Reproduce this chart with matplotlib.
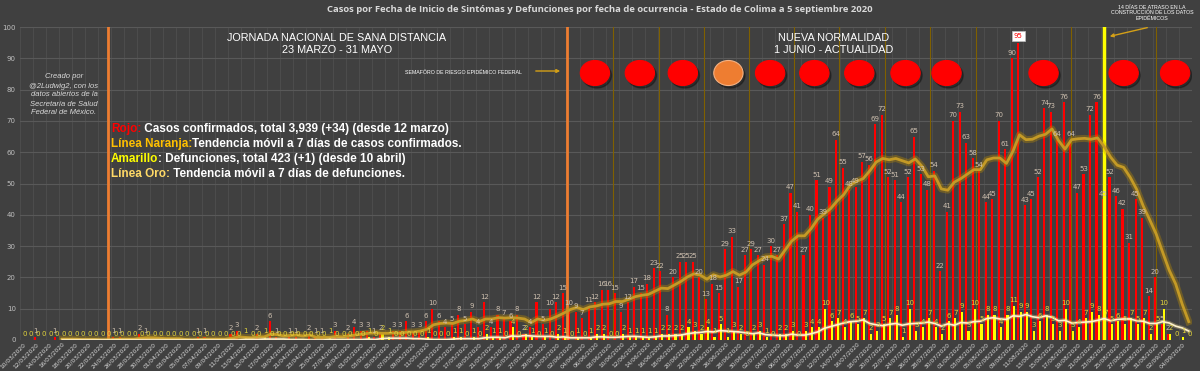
import numpy as np
import pandas as pd
import matplotlib
matplotlib.use("Agg")
import matplotlib.pyplot as plt
from matplotlib.patches import Ellipse, FancyArrowPatch

# ==========================================
# Datos (10 mar - 5 sep 2020)
# ==========================================
fecha_inicio = "2020-03-10"

casos = [
    0, 0, 1, 0, 0, 1, 0, 0, 0, 0,
    0, 0, 0, 0, 1, 1, 0, 0, 2, 1,
    0, 0, 0, 0, 0, 0, 0, 1, 1, 0,
    0, 0, 2, 3, 0, 0, 2, 0, 6, 1,
    0, 1, 1, 0, 2, 1, 1, 0, 3, 0,
    2, 4, 3, 3, 1, 2, 0, 3, 3, 6,
    3, 3, 6, 10, 6, 4, 5, 8, 5, 9,
    4, 12, 4, 8, 7, 6, 8, 2, 4, 12,
    5, 10, 12, 15, 10, 9, 7, 11, 12, 16,
    16, 15, 9, 12, 17, 15, 18, 23, 22, 8,
    20, 25, 25, 25, 20, 13, 18, 15, 29, 33,
    17, 27, 29, 27, 24, 30, 27, 37, 47, 41,
    27, 40, 51, 39, 49, 64, 55, 48, 49, 57,
    56, 69, 72, 52, 51, 44, 52, 65, 53, 48,
    54, 22, 41, 70, 73, 63, 58, 54, 44, 45,
    70, 61, 90, 95, 43, 45, 52, 74, 73, 64,
    76, 64, 47, 53, 72, 76, 45, 52, 46, 42,
    31, 45, 39, 14, 20, 5, 2, 0, 0, 0,
]

defunciones = [
    0, 0, 0, 0, 0, 0, 0, 0, 0, 0,
    0, 0, 0, 0, 0, 0, 0, 0, 0, 0,
    0, 0, 0, 0, 0, 0, 0, 0, 0, 0,
    0, 0, 0, 0, 1, 0, 0, 1, 0, 0,
    0, 0, 0, 0, 0, 0, 0, 1, 0, 0,
    0, 0, 0, 1, 0, 2, 1, 0, 0, 0,
    0, 0, 1, 0, 0, 0, 1, 1, 0, 1,
    0, 2, 1, 1, 0, 4, 0, 2, 1, 0,
    1, 0, 2, 1, 0, 1, 0, 1, 2, 2,
    0, 0, 2, 1, 1, 1, 1, 1, 2, 2,
    2, 2, 4, 3, 2, 4, 1, 5, 1, 3,
    2, 0, 2, 3, 1, 0, 2, 2, 3, 0,
    3, 4, 4, 10, 6, 7, 4, 6, 5, 7,
    2, 3, 5, 7, 8, 1, 10, 3, 4, 7,
    4, 2, 6, 7, 9, 3, 10, 5, 8, 8,
    4, 8, 11, 9, 9, 3, 6, 8, 5, 3,
    10, 3, 4, 7, 9, 8, 7, 5, 6, 5,
    7, 5, 7, 2, 5, 10, 2, 0, 1, 0,
]

# semáforo federal (una bola por semana)
semaforo_colores = ["rojo", "rojo", "rojo", "naranja", "rojo", "rojo",
                    "rojo", "rojo", "rojo", "rojo", "rojo", "rojo"]

# posiciones (en días) de las anotaciones
semaforo_dias = [87.8, 94.7, 101.3, 108.3, 114.7, 121.5,
                 128.4, 135.5, 141.8, 156.7, 169.0, 176.9]
lineas_semana = [90.6, 97.6, 104.6, 111.5, 118.4, 125.3,
                 132.4, 139.3, 146.3, 160.9, 174.0]
dia_inicio_jornada = 13
dia_fin_jornada = 83.5
dia_atraso = 166

titulo = ("Casos por Fecha de Inicio de Sintómas y Defunciones por fecha de "
          "ocurrencia - Estado de Colima a 5 septiembre 2020")

leyenda = [
    [("Rojo:", "#FF0000"), (" Casos confirmados, total 3,939 (+34) (desde 12 marzo)", "white")],
    [("Línea Naranja:", "#FFC000"), ("Tendencia móvil a 7 días de casos confirmados.", "white")],
    [("Amarillo", "#FFFF00"), (": Defunciones, total 423 (+1) (desde 10 abril)", "white")],
    [("Línea Oro:", "#FFD966"), (" Tendencia móvil a 7 días de defunciones.", "white")],
]

# ==========================================
# Figura
# ==========================================
FONDO = "#404040"
W, H = 1200, 371

fechas = pd.date_range(fecha_inicio, periods=len(casos), freq="D")
x = np.arange(len(casos))
mm_casos = pd.Series(casos).rolling(7).mean()
mm_def = pd.Series(defunciones).rolling(7).mean()

fig = plt.figure(figsize=(12, 3.71), dpi=100, facecolor=FONDO)
ax = fig.add_axes([20 / W, 1 - 340 / H, 1172 / W, 313 / H])
ax.set_facecolor(FONDO)

# rejilla
ax.set_axisbelow(True)
ax.set_yticks(np.arange(0, 101, 10))
ax.set_xticks(x[::2])
ax.set_xticks(np.arange(-0.5, len(x), 2), minor=True)
ax.grid(axis="y", color="#595959", lw=0.8)
ax.grid(axis="x", which="minor", color="#4f4f4f", lw=0.6)
ax.tick_params(which="both", length=0)
for s in ax.spines.values():
    s.set_visible(False)

# barras
ax.bar(x - 0.17, casos, width=0.32, color="#FF0000", zorder=3)
ax.bar(x + 0.17, defunciones, width=0.32, color="#FFFF00", zorder=3)

# líneas verticales
for d in lineas_semana:
    ax.axvline(d, color="#7F6000", lw=0.8, zorder=2)
ax.axvline(dia_inicio_jornada, color="#ED7D31", lw=2, zorder=4)
ax.axvline(dia_fin_jornada, color="#ED7D31", lw=2, zorder=4)
ax.axvline(dia_atraso, color="#FFFF00", lw=2.5, zorder=4)

# tendencias móviles a 7 días
ax.plot(x, mm_casos, color="#BF9000", lw=5, alpha=0.35, zorder=5)
ax.plot(x, mm_casos, color="#C49A26", lw=2, zorder=5)
ax.plot(x, mm_def, color="#FFE699", lw=3, alpha=0.3, zorder=5)
ax.plot(x, mm_def, color="#FFF2CC", lw=1.2, zorder=5)

# etiquetas de datos
for i, v in enumerate(casos):
    if v == 0:
        continue
    if v == max(casos):
        ax.text(i - 0.17, v + 1.2, str(v), ha="center", va="bottom", fontsize=5,
                color="#FF0000", zorder=7,
                bbox=dict(boxstyle="square,pad=0.25", fc="white", ec="#BFBFBF", lw=0.5))
    else:
        ax.text(i - 0.17, v + 0.8, str(v), ha="center", va="bottom", fontsize=5,
                color="#CDBFAF", zorder=6)
for i, v in enumerate(defunciones):
    ax.text(i + 0.17, v + 0.8, str(v), ha="center", va="bottom", fontsize=5,
            color="#E2D43C", zorder=6)

# semáforo
colores = {"rojo": ("#FF0000", "#FF0000"), "naranja": ("#EE7D31", "#F4B183")}
for d, c in zip(semaforo_dias, semaforo_colores):
    ax.add_patch(Ellipse((d + 0.3, 84.5), 4.5, 8, color="black", alpha=0.3, zorder=7))
    fc, ec = colores[c]
    ax.add_patch(Ellipse((d, 85.3), 4.5, 8, fc=fc, ec=ec, lw=0.8, zorder=8))

ax.set_xlim(-0.5, len(x) - 0.5)
ax.set_ylim(0, 100)
ax.set_yticklabels([str(v) for v in range(0, 101, 10)], fontsize=5, color="#BFBFBF")
ax.set_xticklabels([f.strftime("%d/%m/%Y") for f in fechas[::2]], fontsize=4.2,
                   color="#D9D9D9", rotation=45, ha="right", rotation_mode="anchor")
ax.tick_params(axis="y", pad=3)
ax.tick_params(axis="x", pad=1)

# ==========================================
# Textos
# ==========================================
def fx(px):
    return px / W

def fy(py):
    return 1 - py / H

fig.text(0.5, fy(10), titulo, ha="center", va="center", fontsize=6.8,
         fontweight="bold", color="#D9D9D9", family="Open Sans")

fig.text(fx(337), fy(44), "JORNADA NACIONAL DE SANA DISTANCIA\n23 MARZO - 31 MAYO",
         ha="center", va="center", fontsize=7.8, color="white",
         family="Liberation Sans", linespacing=1.15)
fig.text(fx(834), fy(44), "NUEVA NORMALIDAD\n1 JUNIO - ACTUALIDAD",
         ha="center", va="center", fontsize=7.8, color="white",
         family="Liberation Sans", linespacing=1.15)

fig.text(fx(64), fy(95), "Creado por\n@2Ludwig2, con los\ndatos abiertos de la\n"
         "Secretaría de Salud\nFederal de México.", ha="center", va="center",
         fontsize=5.5, style="italic", color="#D9D9D9", family="Liberation Sans",
         linespacing=1.4)

# leyenda con colores por tramo
for k, partes in enumerate(leyenda):
    t = fig.text(fx(111), fy(132 + 15 * k), partes[0][0], color=partes[0][1],
                 fontsize=8.5, fontweight="bold", family="Liberation Sans")
    for s, c in partes[1:]:
        t = ax.annotate(s, xy=(1, 0), xycoords=t, va="bottom", ha="left",
                        color=c, fontsize=8.5, fontweight="bold",
                        family="Liberation Sans", annotation_clip=False)

fig.text(fx(463), fy(72), "SEMAFÓRO DE RIESGO EPIDÉMICO FEDERAL", ha="center",
         va="center", fontsize=3.8, color="white", family="Liberation Sans")
fig.add_artist(FancyArrowPatch(
    (fx(533), fy(71)), (fx(563), fy(71)), transform=fig.transFigure,
    arrowstyle="-|>", mutation_scale=5, color="#D4A017", lw=1))

fig.text(fx(1152), fy(13), "14 DÍAS DE ATRASO EN LA\nCONSTRUCCIÓN DE LOS DATOS\nEPIDÉMICOS",
         ha="center", va="center", fontsize=3.8, color="white",
         family="Liberation Sans", linespacing=1.1)
fig.add_artist(FancyArrowPatch(
    (fx(1150), fy(27)), (fx(1107), fy(37)), transform=fig.transFigure,
    arrowstyle="-|>", mutation_scale=5, color="#D4A017", lw=1))

fig.savefig("out.png", dpi=100, facecolor=FONDO)
